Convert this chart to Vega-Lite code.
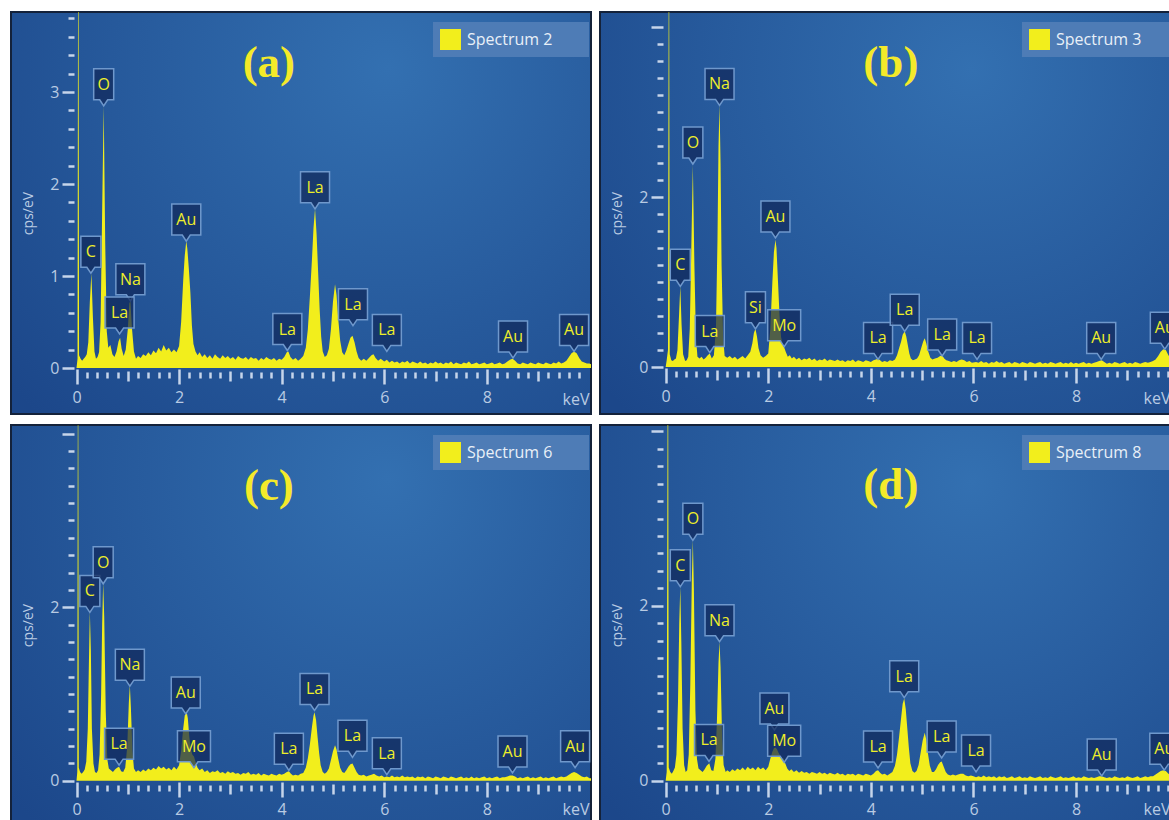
{
"$schema": "https://vega.github.io/schema/vega-lite/v6.json",
"background": "#ffffff",
"padding": {"left": 10, "top": 11, "right": 0, "bottom": 0},
"config": {
  "concat": {"spacing": 7},
  "axis": {"domain": false, "grid": false, "tickColor": "#c6d5ea", "tickWidth": 2.5, "labelColor": "#b9cbe3", "labelFont": "Open Sans", "labelFontSize": 16, "titleColor": "#b9cbe3", "titleFont": "Open Sans", "titleFontSize": 14, "titleFontWeight": "normal", "labelOverlap": false, "labelFlush": false},
  "legend": {"orient": "none", "legendY": 10, "legendX": 422, "title": null, "fillColor": "#4e7cb6", "padding": 7, "symbolType": "square", "symbolSize": 441, "symbolStrokeWidth": 0, "symbolOpacity": 1, "labelFont": "Open Sans", "labelFontSize": 16, "labelColor": "#e9f0f8", "labelOffset": 6}
},
"datasets": {
"a": [{"e":0,"v":0},{"e":0.02,"v":0.1},{"e":0.035,"v":6},{"e":0.05,"v":0.14},{"e":0.08,"v":0.1},{"e":0.11,"v":0.08},{"e":0.14,"v":0.1},{"e":0.17,"v":0.12},{"e":0.2,"v":0.15},{"e":0.23,"v":0.28},{"e":0.26,"v":0.72},{"e":0.29,"v":1.03},{"e":0.32,"v":0.55},{"e":0.35,"v":0.18},{"e":0.38,"v":0.1},{"e":0.41,"v":0.12},{"e":0.44,"v":0.17},{"e":0.47,"v":0.5},{"e":0.5,"v":1.7},{"e":0.53,"v":2.85},{"e":0.56,"v":1.35},{"e":0.59,"v":0.4},{"e":0.62,"v":0.22},{"e":0.66,"v":0.25},{"e":0.7,"v":0.15},{"e":0.74,"v":0.12},{"e":0.78,"v":0.18},{"e":0.82,"v":0.29},{"e":0.85,"v":0.33},{"e":0.88,"v":0.21},{"e":0.92,"v":0.13},{"e":0.96,"v":0.2},{"e":1,"v":0.42},{"e":1.03,"v":0.7},{"e":1.05,"v":0.73},{"e":1.08,"v":0.44},{"e":1.12,"v":0.18},{"e":1.16,"v":0.1},{"e":1.2,"v":0.13},{"e":1.25,"v":0.11},{"e":1.3,"v":0.15},{"e":1.35,"v":0.13},{"e":1.4,"v":0.17},{"e":1.45,"v":0.14},{"e":1.5,"v":0.19},{"e":1.55,"v":0.16},{"e":1.6,"v":0.22},{"e":1.65,"v":0.18},{"e":1.7,"v":0.25},{"e":1.75,"v":0.19},{"e":1.8,"v":0.22},{"e":1.85,"v":0.17},{"e":1.9,"v":0.2},{"e":1.95,"v":0.17},{"e":2,"v":0.24},{"e":2.04,"v":0.5},{"e":2.08,"v":0.95},{"e":2.11,"v":1.22},{"e":2.14,"v":1.38},{"e":2.16,"v":1.3},{"e":2.19,"v":1.08},{"e":2.22,"v":0.82},{"e":2.25,"v":0.46},{"e":2.28,"v":0.26},{"e":2.32,"v":0.18},{"e":2.36,"v":0.14},{"e":2.4,"v":0.17},{"e":2.45,"v":0.12},{"e":2.5,"v":0.15},{"e":2.55,"v":0.11},{"e":2.6,"v":0.14},{"e":2.65,"v":0.1},{"e":2.7,"v":0.15},{"e":2.75,"v":0.12},{"e":2.8,"v":0.1},{"e":2.85,"v":0.14},{"e":2.9,"v":0.11},{"e":2.95,"v":0.13},{"e":3,"v":0.1},{"e":3.05,"v":0.12},{"e":3.1,"v":0.09},{"e":3.15,"v":0.13},{"e":3.2,"v":0.11},{"e":3.25,"v":0.1},{"e":3.3,"v":0.12},{"e":3.35,"v":0.09},{"e":3.4,"v":0.12},{"e":3.45,"v":0.1},{"e":3.5,"v":0.11},{"e":3.55,"v":0.08},{"e":3.6,"v":0.11},{"e":3.65,"v":0.09},{"e":3.7,"v":0.12},{"e":3.75,"v":0.1},{"e":3.8,"v":0.09},{"e":3.85,"v":0.11},{"e":3.9,"v":0.08},{"e":3.95,"v":0.1},{"e":4,"v":0.09},{"e":4.05,"v":0.12},{"e":4.1,"v":0.17},{"e":4.13,"v":0.18},{"e":4.17,"v":0.12},{"e":4.22,"v":0.09},{"e":4.27,"v":0.11},{"e":4.32,"v":0.08},{"e":4.37,"v":0.1},{"e":4.42,"v":0.13},{"e":4.47,"v":0.22},{"e":4.51,"v":0.42},{"e":4.55,"v":0.78},{"e":4.59,"v":1.18},{"e":4.62,"v":1.52},{"e":4.65,"v":1.73},{"e":4.68,"v":1.46},{"e":4.71,"v":1.05},{"e":4.74,"v":0.64},{"e":4.77,"v":0.34},{"e":4.8,"v":0.18},{"e":4.84,"v":0.12},{"e":4.88,"v":0.14},{"e":4.92,"v":0.21},{"e":4.96,"v":0.42},{"e":5,"v":0.72},{"e":5.04,"v":0.91},{"e":5.07,"v":0.79},{"e":5.1,"v":0.55},{"e":5.14,"v":0.3},{"e":5.18,"v":0.17},{"e":5.22,"v":0.14},{"e":5.26,"v":0.19},{"e":5.3,"v":0.26},{"e":5.34,"v":0.33},{"e":5.38,"v":0.35},{"e":5.42,"v":0.28},{"e":5.46,"v":0.18},{"e":5.5,"v":0.11},{"e":5.55,"v":0.08},{"e":5.6,"v":0.1},{"e":5.65,"v":0.08},{"e":5.7,"v":0.11},{"e":5.75,"v":0.14},{"e":5.79,"v":0.15},{"e":5.83,"v":0.11},{"e":5.88,"v":0.08},{"e":5.93,"v":0.1},{"e":6,"v":0.07},{"e":6.05,"v":0.09},{"e":6.1,"v":0.06},{"e":6.15,"v":0.08},{"e":6.2,"v":0.06},{"e":6.25,"v":0.07},{"e":6.3,"v":0.05},{"e":6.35,"v":0.07},{"e":6.4,"v":0.06},{"e":6.45,"v":0.08},{"e":6.5,"v":0.05},{"e":6.55,"v":0.07},{"e":6.6,"v":0.06},{"e":6.65,"v":0.05},{"e":6.7,"v":0.07},{"e":6.75,"v":0.05},{"e":6.8,"v":0.06},{"e":6.85,"v":0.04},{"e":6.9,"v":0.06},{"e":6.95,"v":0.05},{"e":7,"v":0.07},{"e":7.05,"v":0.05},{"e":7.1,"v":0.06},{"e":7.15,"v":0.04},{"e":7.2,"v":0.06},{"e":7.25,"v":0.05},{"e":7.3,"v":0.07},{"e":7.35,"v":0.04},{"e":7.4,"v":0.06},{"e":7.45,"v":0.05},{"e":7.5,"v":0.04},{"e":7.55,"v":0.06},{"e":7.6,"v":0.05},{"e":7.65,"v":0.07},{"e":7.7,"v":0.04},{"e":7.75,"v":0.05},{"e":7.8,"v":0.06},{"e":7.85,"v":0.04},{"e":7.9,"v":0.05},{"e":7.95,"v":0.06},{"e":8,"v":0.04},{"e":8.05,"v":0.05},{"e":8.1,"v":0.06},{"e":8.15,"v":0.04},{"e":8.2,"v":0.05},{"e":8.25,"v":0.06},{"e":8.3,"v":0.04},{"e":8.35,"v":0.05},{"e":8.4,"v":0.07},{"e":8.45,"v":0.09},{"e":8.5,"v":0.1},{"e":8.55,"v":0.08},{"e":8.6,"v":0.05},{"e":8.65,"v":0.04},{"e":8.7,"v":0.06},{"e":8.75,"v":0.05},{"e":8.8,"v":0.04},{"e":8.85,"v":0.06},{"e":8.9,"v":0.05},{"e":8.95,"v":0.04},{"e":9,"v":0.06},{"e":9.05,"v":0.05},{"e":9.1,"v":0.04},{"e":9.15,"v":0.06},{"e":9.2,"v":0.05},{"e":9.25,"v":0.04},{"e":9.3,"v":0.06},{"e":9.35,"v":0.05},{"e":9.4,"v":0.07},{"e":9.45,"v":0.05},{"e":9.5,"v":0.06},{"e":9.55,"v":0.08},{"e":9.6,"v":0.12},{"e":9.65,"v":0.16},{"e":9.7,"v":0.18},{"e":9.75,"v":0.16},{"e":9.8,"v":0.11},{"e":9.85,"v":0.07},{"e":9.9,"v":0.06},{"e":9.95,"v":0.05},{"e":10,"v":0.05},{"e":10.03,"v":0.04}],
"b": [{"e":0,"v":0},{"e":0.02,"v":0.08},{"e":0.045,"v":0.2},{"e":0.064,"v":6},{"e":0.08,"v":0.15},{"e":0.11,"v":0.08},{"e":0.14,"v":0.07},{"e":0.17,"v":0.09},{"e":0.2,"v":0.1},{"e":0.23,"v":0.2},{"e":0.26,"v":0.6},{"e":0.285,"v":0.95},{"e":0.31,"v":0.5},{"e":0.34,"v":0.15},{"e":0.38,"v":0.07},{"e":0.41,"v":0.08},{"e":0.44,"v":0.12},{"e":0.47,"v":0.45},{"e":0.5,"v":1.4},{"e":0.53,"v":2.38},{"e":0.56,"v":1.2},{"e":0.59,"v":0.35},{"e":0.62,"v":0.12},{"e":0.66,"v":0.1},{"e":0.7,"v":0.12},{"e":0.74,"v":0.09},{"e":0.78,"v":0.11},{"e":0.82,"v":0.14},{"e":0.86,"v":0.16},{"e":0.9,"v":0.1},{"e":0.94,"v":0.14},{"e":0.98,"v":0.45},{"e":1.01,"v":1.5},{"e":1.03,"v":2.6},{"e":1.05,"v":3.09},{"e":1.07,"v":2.4},{"e":1.09,"v":1.2},{"e":1.12,"v":0.35},{"e":1.15,"v":0.13},{"e":1.2,"v":0.11},{"e":1.25,"v":0.13},{"e":1.3,"v":0.1},{"e":1.35,"v":0.12},{"e":1.4,"v":0.09},{"e":1.45,"v":0.11},{"e":1.5,"v":0.13},{"e":1.55,"v":0.1},{"e":1.6,"v":0.14},{"e":1.65,"v":0.18},{"e":1.69,"v":0.28},{"e":1.72,"v":0.4},{"e":1.75,"v":0.45},{"e":1.78,"v":0.36},{"e":1.81,"v":0.22},{"e":1.85,"v":0.14},{"e":1.9,"v":0.11},{"e":1.95,"v":0.13},{"e":2,"v":0.16},{"e":2.04,"v":0.45},{"e":2.08,"v":1},{"e":2.11,"v":1.35},{"e":2.14,"v":1.5},{"e":2.16,"v":1.4},{"e":2.19,"v":1},{"e":2.22,"v":0.6},{"e":2.25,"v":0.35},{"e":2.28,"v":0.27},{"e":2.31,"v":0.23},{"e":2.34,"v":0.18},{"e":2.38,"v":0.12},{"e":2.42,"v":0.14},{"e":2.46,"v":0.1},{"e":2.5,"v":0.12},{"e":2.55,"v":0.09},{"e":2.6,"v":0.11},{"e":2.65,"v":0.08},{"e":2.7,"v":0.1},{"e":2.75,"v":0.09},{"e":2.8,"v":0.11},{"e":2.85,"v":0.08},{"e":2.9,"v":0.1},{"e":2.95,"v":0.07},{"e":3,"v":0.09},{"e":3.05,"v":0.08},{"e":3.1,"v":0.1},{"e":3.15,"v":0.07},{"e":3.2,"v":0.09},{"e":3.25,"v":0.08},{"e":3.3,"v":0.07},{"e":3.35,"v":0.09},{"e":3.4,"v":0.07},{"e":3.45,"v":0.08},{"e":3.5,"v":0.06},{"e":3.55,"v":0.08},{"e":3.6,"v":0.07},{"e":3.65,"v":0.09},{"e":3.7,"v":0.06},{"e":3.75,"v":0.08},{"e":3.8,"v":0.07},{"e":3.85,"v":0.06},{"e":3.9,"v":0.08},{"e":3.95,"v":0.07},{"e":4,"v":0.06},{"e":4.05,"v":0.08},{"e":4.1,"v":0.09},{"e":4.14,"v":0.1},{"e":4.18,"v":0.08},{"e":4.22,"v":0.06},{"e":4.27,"v":0.07},{"e":4.32,"v":0.06},{"e":4.37,"v":0.08},{"e":4.42,"v":0.07},{"e":4.47,"v":0.09},{"e":4.51,"v":0.14},{"e":4.55,"v":0.22},{"e":4.59,"v":0.3},{"e":4.62,"v":0.38},{"e":4.66,"v":0.42},{"e":4.69,"v":0.36},{"e":4.72,"v":0.26},{"e":4.75,"v":0.16},{"e":4.78,"v":0.1},{"e":4.82,"v":0.08},{"e":4.86,"v":0.09},{"e":4.9,"v":0.1},{"e":4.94,"v":0.14},{"e":4.98,"v":0.22},{"e":5.02,"v":0.3},{"e":5.05,"v":0.34},{"e":5.08,"v":0.28},{"e":5.12,"v":0.18},{"e":5.16,"v":0.11},{"e":5.2,"v":0.09},{"e":5.25,"v":0.1},{"e":5.3,"v":0.11},{"e":5.35,"v":0.13},{"e":5.39,"v":0.14},{"e":5.43,"v":0.1},{"e":5.47,"v":0.08},{"e":5.52,"v":0.07},{"e":5.57,"v":0.06},{"e":5.62,"v":0.07},{"e":5.67,"v":0.06},{"e":5.72,"v":0.08},{"e":5.77,"v":0.09},{"e":5.82,"v":0.08},{"e":5.87,"v":0.06},{"e":5.92,"v":0.07},{"e":5.97,"v":0.05},{"e":6.05,"v":0.06},{"e":6.1,"v":0.05},{"e":6.15,"v":0.07},{"e":6.2,"v":0.05},{"e":6.25,"v":0.06},{"e":6.3,"v":0.04},{"e":6.35,"v":0.06},{"e":6.4,"v":0.05},{"e":6.45,"v":0.07},{"e":6.5,"v":0.05},{"e":6.55,"v":0.06},{"e":6.6,"v":0.04},{"e":6.65,"v":0.05},{"e":6.7,"v":0.06},{"e":6.75,"v":0.04},{"e":6.8,"v":0.06},{"e":6.85,"v":0.05},{"e":6.9,"v":0.04},{"e":6.95,"v":0.06},{"e":7,"v":0.05},{"e":7.05,"v":0.04},{"e":7.1,"v":0.06},{"e":7.15,"v":0.05},{"e":7.2,"v":0.04},{"e":7.25,"v":0.05},{"e":7.3,"v":0.06},{"e":7.35,"v":0.04},{"e":7.4,"v":0.05},{"e":7.45,"v":0.04},{"e":7.5,"v":0.06},{"e":7.55,"v":0.05},{"e":7.6,"v":0.04},{"e":7.65,"v":0.05},{"e":7.7,"v":0.06},{"e":7.75,"v":0.04},{"e":7.8,"v":0.05},{"e":7.85,"v":0.04},{"e":7.9,"v":0.06},{"e":7.95,"v":0.04},{"e":8,"v":0.05},{"e":8.05,"v":0.04},{"e":8.1,"v":0.05},{"e":8.15,"v":0.06},{"e":8.2,"v":0.04},{"e":8.25,"v":0.05},{"e":8.3,"v":0.04},{"e":8.35,"v":0.05},{"e":8.4,"v":0.06},{"e":8.45,"v":0.07},{"e":8.5,"v":0.08},{"e":8.55,"v":0.06},{"e":8.6,"v":0.04},{"e":8.65,"v":0.05},{"e":8.7,"v":0.04},{"e":8.75,"v":0.06},{"e":8.8,"v":0.05},{"e":8.85,"v":0.04},{"e":8.9,"v":0.05},{"e":8.95,"v":0.06},{"e":9,"v":0.04},{"e":9.05,"v":0.05},{"e":9.1,"v":0.04},{"e":9.15,"v":0.06},{"e":9.2,"v":0.05},{"e":9.25,"v":0.04},{"e":9.3,"v":0.05},{"e":9.35,"v":0.06},{"e":9.4,"v":0.05},{"e":9.45,"v":0.06},{"e":9.5,"v":0.07},{"e":9.55,"v":0.09},{"e":9.6,"v":0.13},{"e":9.65,"v":0.18},{"e":9.7,"v":0.21},{"e":9.75,"v":0.2},{"e":9.8,"v":0.14},{"e":9.85,"v":0.09},{"e":9.9,"v":0.06}],
"c": [{"e":0,"v":0},{"e":0.015,"v":0.1},{"e":0.03,"v":6},{"e":0.045,"v":0.15},{"e":0.07,"v":0.1},{"e":0.1,"v":0.08},{"e":0.13,"v":0.1},{"e":0.16,"v":0.13},{"e":0.19,"v":0.22},{"e":0.22,"v":0.6},{"e":0.24,"v":1.3},{"e":0.26,"v":1.95},{"e":0.28,"v":1.5},{"e":0.3,"v":0.6},{"e":0.33,"v":0.2},{"e":0.36,"v":0.1},{"e":0.39,"v":0.09},{"e":0.42,"v":0.12},{"e":0.45,"v":0.3},{"e":0.48,"v":1},{"e":0.5,"v":1.8},{"e":0.52,"v":2.28},{"e":0.54,"v":1.9},{"e":0.57,"v":0.8},{"e":0.6,"v":0.25},{"e":0.63,"v":0.14},{"e":0.67,"v":0.12},{"e":0.71,"v":0.1},{"e":0.75,"v":0.13},{"e":0.79,"v":0.15},{"e":0.83,"v":0.16},{"e":0.87,"v":0.11},{"e":0.91,"v":0.1},{"e":0.95,"v":0.15},{"e":0.99,"v":0.4},{"e":1.02,"v":0.9},{"e":1.04,"v":1.1},{"e":1.06,"v":0.85},{"e":1.09,"v":0.35},{"e":1.12,"v":0.14},{"e":1.16,"v":0.1},{"e":1.2,"v":0.12},{"e":1.25,"v":0.1},{"e":1.3,"v":0.13},{"e":1.35,"v":0.11},{"e":1.4,"v":0.14},{"e":1.45,"v":0.12},{"e":1.5,"v":0.15},{"e":1.55,"v":0.13},{"e":1.6,"v":0.17},{"e":1.65,"v":0.14},{"e":1.7,"v":0.16},{"e":1.75,"v":0.13},{"e":1.8,"v":0.15},{"e":1.85,"v":0.12},{"e":1.9,"v":0.16},{"e":1.95,"v":0.13},{"e":2,"v":0.18},{"e":2.04,"v":0.35},{"e":2.08,"v":0.6},{"e":2.11,"v":0.75},{"e":2.14,"v":0.82},{"e":2.17,"v":0.72},{"e":2.2,"v":0.5},{"e":2.23,"v":0.36},{"e":2.26,"v":0.3},{"e":2.29,"v":0.28},{"e":2.32,"v":0.22},{"e":2.36,"v":0.15},{"e":2.4,"v":0.12},{"e":2.45,"v":0.14},{"e":2.5,"v":0.1},{"e":2.55,"v":0.12},{"e":2.6,"v":0.09},{"e":2.65,"v":0.11},{"e":2.7,"v":0.1},{"e":2.75,"v":0.12},{"e":2.8,"v":0.09},{"e":2.85,"v":0.1},{"e":2.9,"v":0.08},{"e":2.95,"v":0.11},{"e":3,"v":0.09},{"e":3.05,"v":0.1},{"e":3.1,"v":0.08},{"e":3.15,"v":0.09},{"e":3.2,"v":0.07},{"e":3.25,"v":0.09},{"e":3.3,"v":0.08},{"e":3.35,"v":0.1},{"e":3.4,"v":0.07},{"e":3.45,"v":0.08},{"e":3.5,"v":0.07},{"e":3.55,"v":0.09},{"e":3.6,"v":0.06},{"e":3.65,"v":0.08},{"e":3.7,"v":0.07},{"e":3.75,"v":0.06},{"e":3.8,"v":0.08},{"e":3.85,"v":0.07},{"e":3.9,"v":0.06},{"e":3.95,"v":0.08},{"e":4,"v":0.07},{"e":4.05,"v":0.08},{"e":4.1,"v":0.1},{"e":4.14,"v":0.11},{"e":4.18,"v":0.08},{"e":4.22,"v":0.06},{"e":4.27,"v":0.07},{"e":4.32,"v":0.06},{"e":4.37,"v":0.08},{"e":4.42,"v":0.09},{"e":4.47,"v":0.15},{"e":4.51,"v":0.26},{"e":4.55,"v":0.42},{"e":4.59,"v":0.62},{"e":4.62,"v":0.75},{"e":4.64,"v":0.79},{"e":4.67,"v":0.7},{"e":4.7,"v":0.5},{"e":4.73,"v":0.32},{"e":4.76,"v":0.18},{"e":4.8,"v":0.1},{"e":4.84,"v":0.08},{"e":4.88,"v":0.1},{"e":4.92,"v":0.14},{"e":4.96,"v":0.24},{"e":5,"v":0.34},{"e":5.04,"v":0.41},{"e":5.07,"v":0.36},{"e":5.1,"v":0.26},{"e":5.14,"v":0.15},{"e":5.18,"v":0.1},{"e":5.22,"v":0.09},{"e":5.26,"v":0.12},{"e":5.3,"v":0.16},{"e":5.34,"v":0.19},{"e":5.38,"v":0.2},{"e":5.42,"v":0.15},{"e":5.46,"v":0.1},{"e":5.5,"v":0.07},{"e":5.55,"v":0.06},{"e":5.6,"v":0.07},{"e":5.65,"v":0.05},{"e":5.7,"v":0.06},{"e":5.75,"v":0.07},{"e":5.8,"v":0.08},{"e":5.85,"v":0.06},{"e":5.9,"v":0.05},{"e":5.95,"v":0.06},{"e":6,"v":0.04},{"e":6.05,"v":0.05},{"e":6.1,"v":0.04},{"e":6.15,"v":0.06},{"e":6.2,"v":0.04},{"e":6.25,"v":0.05},{"e":6.3,"v":0.04},{"e":6.35,"v":0.06},{"e":6.4,"v":0.04},{"e":6.45,"v":0.05},{"e":6.5,"v":0.04},{"e":6.55,"v":0.05},{"e":6.6,"v":0.03},{"e":6.65,"v":0.05},{"e":6.7,"v":0.04},{"e":6.75,"v":0.05},{"e":6.8,"v":0.03},{"e":6.85,"v":0.05},{"e":6.9,"v":0.04},{"e":6.95,"v":0.03},{"e":7,"v":0.05},{"e":7.05,"v":0.04},{"e":7.1,"v":0.03},{"e":7.15,"v":0.05},{"e":7.2,"v":0.04},{"e":7.25,"v":0.03},{"e":7.3,"v":0.05},{"e":7.35,"v":0.04},{"e":7.4,"v":0.03},{"e":7.45,"v":0.04},{"e":7.5,"v":0.05},{"e":7.55,"v":0.03},{"e":7.6,"v":0.04},{"e":7.65,"v":0.03},{"e":7.7,"v":0.05},{"e":7.75,"v":0.03},{"e":7.8,"v":0.04},{"e":7.85,"v":0.03},{"e":7.9,"v":0.04},{"e":7.95,"v":0.05},{"e":8,"v":0.03},{"e":8.05,"v":0.04},{"e":8.1,"v":0.03},{"e":8.15,"v":0.04},{"e":8.2,"v":0.05},{"e":8.25,"v":0.03},{"e":8.3,"v":0.04},{"e":8.35,"v":0.04},{"e":8.4,"v":0.05},{"e":8.45,"v":0.06},{"e":8.5,"v":0.06},{"e":8.55,"v":0.05},{"e":8.6,"v":0.03},{"e":8.65,"v":0.04},{"e":8.7,"v":0.03},{"e":8.75,"v":0.04},{"e":8.8,"v":0.05},{"e":8.85,"v":0.03},{"e":8.9,"v":0.04},{"e":8.95,"v":0.03},{"e":9,"v":0.04},{"e":9.05,"v":0.05},{"e":9.1,"v":0.03},{"e":9.15,"v":0.04},{"e":9.2,"v":0.03},{"e":9.25,"v":0.04},{"e":9.3,"v":0.05},{"e":9.35,"v":0.03},{"e":9.4,"v":0.04},{"e":9.45,"v":0.05},{"e":9.5,"v":0.04},{"e":9.55,"v":0.05},{"e":9.6,"v":0.07},{"e":9.65,"v":0.09},{"e":9.7,"v":0.1},{"e":9.75,"v":0.09},{"e":9.8,"v":0.07},{"e":9.85,"v":0.05},{"e":9.9,"v":0.04},{"e":9.95,"v":0.05},{"e":10,"v":0.03},{"e":10.03,"v":0.03}],
"d": [{"e":0,"v":0},{"e":0.02,"v":0.1},{"e":0.045,"v":6},{"e":0.06,"v":0.15},{"e":0.09,"v":0.1},{"e":0.12,"v":0.08},{"e":0.15,"v":0.11},{"e":0.18,"v":0.15},{"e":0.21,"v":0.3},{"e":0.24,"v":0.9},{"e":0.265,"v":1.8},{"e":0.285,"v":2.22},{"e":0.305,"v":1.6},{"e":0.33,"v":0.6},{"e":0.36,"v":0.18},{"e":0.39,"v":0.1},{"e":0.42,"v":0.12},{"e":0.45,"v":0.3},{"e":0.48,"v":1.1},{"e":0.51,"v":2.3},{"e":0.53,"v":2.75},{"e":0.55,"v":2.2},{"e":0.58,"v":0.8},{"e":0.61,"v":0.25},{"e":0.64,"v":0.14},{"e":0.68,"v":0.12},{"e":0.72,"v":0.1},{"e":0.76,"v":0.13},{"e":0.8,"v":0.17},{"e":0.85,"v":0.2},{"e":0.89,"v":0.12},{"e":0.93,"v":0.11},{"e":0.97,"v":0.25},{"e":1,"v":0.7},{"e":1.03,"v":1.35},{"e":1.05,"v":1.59},{"e":1.07,"v":1.3},{"e":1.1,"v":0.5},{"e":1.13,"v":0.18},{"e":1.17,"v":0.1},{"e":1.2,"v":0.12},{"e":1.25,"v":0.1},{"e":1.3,"v":0.13},{"e":1.35,"v":0.11},{"e":1.4,"v":0.14},{"e":1.45,"v":0.12},{"e":1.5,"v":0.15},{"e":1.55,"v":0.12},{"e":1.6,"v":0.16},{"e":1.65,"v":0.13},{"e":1.7,"v":0.15},{"e":1.75,"v":0.12},{"e":1.8,"v":0.16},{"e":1.85,"v":0.13},{"e":1.9,"v":0.15},{"e":1.95,"v":0.12},{"e":2,"v":0.16},{"e":2.04,"v":0.25},{"e":2.08,"v":0.33},{"e":2.11,"v":0.37},{"e":2.14,"v":0.38},{"e":2.17,"v":0.36},{"e":2.2,"v":0.32},{"e":2.24,"v":0.28},{"e":2.27,"v":0.26},{"e":2.3,"v":0.25},{"e":2.33,"v":0.2},{"e":2.37,"v":0.14},{"e":2.41,"v":0.11},{"e":2.45,"v":0.13},{"e":2.5,"v":0.1},{"e":2.55,"v":0.12},{"e":2.6,"v":0.09},{"e":2.65,"v":0.11},{"e":2.7,"v":0.09},{"e":2.75,"v":0.1},{"e":2.8,"v":0.08},{"e":2.85,"v":0.1},{"e":2.9,"v":0.09},{"e":2.95,"v":0.08},{"e":3,"v":0.1},{"e":3.05,"v":0.08},{"e":3.1,"v":0.09},{"e":3.15,"v":0.07},{"e":3.2,"v":0.09},{"e":3.25,"v":0.08},{"e":3.3,"v":0.07},{"e":3.35,"v":0.09},{"e":3.4,"v":0.07},{"e":3.45,"v":0.08},{"e":3.5,"v":0.06},{"e":3.55,"v":0.08},{"e":3.6,"v":0.07},{"e":3.65,"v":0.08},{"e":3.7,"v":0.06},{"e":3.75,"v":0.08},{"e":3.8,"v":0.07},{"e":3.85,"v":0.06},{"e":3.9,"v":0.08},{"e":3.95,"v":0.07},{"e":4,"v":0.06},{"e":4.05,"v":0.08},{"e":4.1,"v":0.11},{"e":4.14,"v":0.12},{"e":4.18,"v":0.09},{"e":4.22,"v":0.07},{"e":4.27,"v":0.08},{"e":4.32,"v":0.06},{"e":4.37,"v":0.08},{"e":4.42,"v":0.1},{"e":4.47,"v":0.17},{"e":4.51,"v":0.3},{"e":4.55,"v":0.5},{"e":4.59,"v":0.72},{"e":4.62,"v":0.88},{"e":4.65,"v":0.94},{"e":4.68,"v":0.82},{"e":4.71,"v":0.6},{"e":4.74,"v":0.38},{"e":4.77,"v":0.2},{"e":4.81,"v":0.11},{"e":4.85,"v":0.09},{"e":4.89,"v":0.11},{"e":4.93,"v":0.18},{"e":4.97,"v":0.32},{"e":5.01,"v":0.46},{"e":5.05,"v":0.55},{"e":5.08,"v":0.47},{"e":5.11,"v":0.32},{"e":5.15,"v":0.17},{"e":5.19,"v":0.1},{"e":5.23,"v":0.1},{"e":5.27,"v":0.13},{"e":5.31,"v":0.18},{"e":5.35,"v":0.21},{"e":5.38,"v":0.22},{"e":5.42,"v":0.16},{"e":5.46,"v":0.1},{"e":5.5,"v":0.07},{"e":5.55,"v":0.06},{"e":5.6,"v":0.07},{"e":5.65,"v":0.06},{"e":5.7,"v":0.07},{"e":5.75,"v":0.08},{"e":5.8,"v":0.08},{"e":5.85,"v":0.06},{"e":5.9,"v":0.05},{"e":5.95,"v":0.06},{"e":6,"v":0.05},{"e":6.05,"v":0.04},{"e":6.1,"v":0.05},{"e":6.15,"v":0.04},{"e":6.2,"v":0.06},{"e":6.25,"v":0.04},{"e":6.3,"v":0.05},{"e":6.35,"v":0.04},{"e":6.4,"v":0.05},{"e":6.45,"v":0.03},{"e":6.5,"v":0.05},{"e":6.55,"v":0.04},{"e":6.6,"v":0.05},{"e":6.65,"v":0.03},{"e":6.7,"v":0.04},{"e":6.75,"v":0.05},{"e":6.8,"v":0.03},{"e":6.85,"v":0.04},{"e":6.9,"v":0.05},{"e":6.95,"v":0.03},{"e":7,"v":0.04},{"e":7.05,"v":0.03},{"e":7.1,"v":0.05},{"e":7.15,"v":0.04},{"e":7.2,"v":0.03},{"e":7.25,"v":0.04},{"e":7.3,"v":0.05},{"e":7.35,"v":0.03},{"e":7.4,"v":0.04},{"e":7.45,"v":0.03},{"e":7.5,"v":0.05},{"e":7.55,"v":0.04},{"e":7.6,"v":0.03},{"e":7.65,"v":0.04},{"e":7.7,"v":0.05},{"e":7.75,"v":0.03},{"e":7.8,"v":0.04},{"e":7.85,"v":0.03},{"e":7.9,"v":0.04},{"e":7.95,"v":0.05},{"e":8,"v":0.03},{"e":8.05,"v":0.04},{"e":8.1,"v":0.03},{"e":8.15,"v":0.05},{"e":8.2,"v":0.04},{"e":8.25,"v":0.03},{"e":8.3,"v":0.04},{"e":8.35,"v":0.03},{"e":8.4,"v":0.04},{"e":8.45,"v":0.05},{"e":8.5,"v":0.05},{"e":8.55,"v":0.04},{"e":8.6,"v":0.03},{"e":8.65,"v":0.04},{"e":8.7,"v":0.03},{"e":8.75,"v":0.05},{"e":8.8,"v":0.04},{"e":8.85,"v":0.03},{"e":8.9,"v":0.04},{"e":8.95,"v":0.03},{"e":9,"v":0.05},{"e":9.05,"v":0.04},{"e":9.1,"v":0.03},{"e":9.15,"v":0.04},{"e":9.2,"v":0.05},{"e":9.25,"v":0.03},{"e":9.3,"v":0.04},{"e":9.35,"v":0.05},{"e":9.4,"v":0.04},{"e":9.45,"v":0.05},{"e":9.5,"v":0.05},{"e":9.55,"v":0.07},{"e":9.6,"v":0.09},{"e":9.65,"v":0.11},{"e":9.7,"v":0.12},{"e":9.75,"v":0.11},{"e":9.8,"v":0.08},{"e":9.85,"v":0.06},{"e":9.9,"v":0.05}],
"la": [{"e":0.28,"y":1.03,"t":"C","w":"1"},{"e":0.53,"y":2.85,"t":"O","w":"1"},{"e":1.05,"y":0.73,"t":"Na","w":"2"},{"e":0.84,"y":0.37,"t":"La","w":"2"},{"e":2.14,"y":1.38,"t":"Au","w":"2"},{"e":4.11,"y":0.19,"t":"La","w":"2"},{"e":4.65,"y":1.73,"t":"La","w":"2"},{"e":5.39,"y":0.46,"t":"La","w":"2"},{"e":6.05,"y":0.18,"t":"La","w":"2"},{"e":8.51,"y":0.11,"t":"Au","w":"2"},{"e":9.7,"y":0.18,"t":"Au","w":"2"}],
"lb": [{"e":0.285,"y":0.95,"t":"C","w":"1"},{"e":0.53,"y":2.39,"t":"O","w":"1"},{"e":1.05,"y":3.08,"t":"Na","w":"2"},{"e":0.86,"y":0.17,"t":"La","w":"2"},{"e":1.75,"y":0.45,"t":"Si","w":"1"},{"e":2.14,"y":1.52,"t":"Au","w":"2"},{"e":2.31,"y":0.24,"t":"Mo","w":"3"},{"e":4.14,"y":0.09,"t":"La","w":"2"},{"e":4.66,"y":0.42,"t":"La","w":"2"},{"e":5.39,"y":0.13,"t":"La","w":"2"},{"e":6.07,"y":0.09,"t":"La","w":"2"},{"e":8.49,"y":0.09,"t":"Au","w":"2"},{"e":9.73,"y":0.21,"t":"Au","w":"2"}],
"lc": [{"e":0.26,"y":1.94,"t":"C","w":"1"},{"e":0.52,"y":2.27,"t":"O","w":"1"},{"e":1.04,"y":1.09,"t":"Na","w":"2"},{"e":0.83,"y":0.18,"t":"La","w":"2"},{"e":2.13,"y":0.77,"t":"Au","w":"2"},{"e":2.29,"y":0.15,"t":"Mo","w":"3"},{"e":4.14,"y":0.12,"t":"La","w":"2"},{"e":4.64,"y":0.81,"t":"La","w":"2"},{"e":5.38,"y":0.27,"t":"La","w":"2"},{"e":6.05,"y":0.07,"t":"La","w":"2"},{"e":8.5,"y":0.09,"t":"Au","w":"2"},{"e":9.72,"y":0.15,"t":"Au","w":"2"}],
"ld": [{"e":0.285,"y":2.22,"t":"C","w":"1"},{"e":0.53,"y":2.75,"t":"O","w":"1"},{"e":1.05,"y":1.59,"t":"Na","w":"2"},{"e":0.845,"y":0.22,"t":"La","w":"2"},{"e":2.12,"y":0.58,"t":"Au","w":"2"},{"e":2.31,"y":0.21,"t":"Mo","w":"3"},{"e":4.14,"y":0.145,"t":"La","w":"2"},{"e":4.65,"y":0.95,"t":"La","w":"2"},{"e":5.38,"y":0.26,"t":"La","w":"2"},{"e":6.05,"y":0.1,"t":"La","w":"2"},{"e":8.5,"y":0.055,"t":"Au","w":"2"},{"e":9.72,"y":0.12,"t":"Au","w":"2"}]
},
"spacing": 7,
"resolve": {"scale": {"color": "independent"}},
"vconcat": [
 {"spacing": 7, "resolve": {"scale": {"color": "independent"}}, "hconcat": [
  {"width": 580, "height": 402,
   "view": {"fill": {"gradient": "radial", "x1": 0.65, "y1": 0.25, "r1": 0, "x2": 0.65, "y2": 0.25, "r2": 0.85, "stops": [{"offset": 0, "color": "#3370b1"}, {"offset": 1, "color": "#1c478a"}]}, "stroke": "#14223a", "strokeWidth": 2},
   "resolve": {"axis": {"x": "independent", "y": "independent"}},
   "layer": [
    {"data": {"name": "a"}, "mark": {"type": "area", "clip": true, "color": "#f2ee1c", "interpolate": "linear"},
     "encoding": {
      "x": {"field": "e", "type": "quantitative", "scale": {"domain": [-1.277, 10.03], "nice": false, "zero": false}, "axis": {"orient": "bottom", "values": [0,2,4,6,8], "tickSize": 15, "offset": -45, "labelPadding": 5, "title": "keV", "titleAnchor": "end", "titleAlign": "right", "titleBaseline": "top", "titleX": 578, "titleY": 22, "titleFontSize": 16}},
      "y": {"field": "v", "type": "quantitative", "scale": {"domain": [-0.5, 3.87], "nice": false, "zero": false}, "axis": {"orient": "left", "values": [0,1,2,3], "tickSize": 12, "offset": -63, "labelPadding": 3, "title": "cps/eV", "titlePadding": 14}},
      "color": {"datum": "Spectrum 2", "scale": {"range": ["#f2ee1c"]}, "legend": {"labelExpr": "datum.label + '       \u200b'"}}
     }},
    {"data": {"name": "la"}, "mark": {"type": "point", "filled": true, "size": 4, "opacity": 1, "fill": "#10285a", "fillOpacity": 0.72, "stroke": "#6f98cc", "strokeWidth": 1.5, "clip": true},
     "encoding": {
      "x": {"field": "e", "type": "quantitative", "scale": {"domain": [-1.277, 10.03], "nice": false, "zero": false}, "axis": {"orient": "bottom", "values": [1,3,5,7,9], "tickSize": 10, "offset": -43, "labels": false, "title": null}},
      "y": {"field": "y", "type": "quantitative", "scale": {"domain": [-0.5, 3.87], "nice": false, "zero": false}, "axis": {"orient": "left", "values": [0.2,0.4,0.6,0.8,1.2,1.4,1.6,1.8,2.2,2.4,2.6,2.8,3.2,3.4,3.6,3.8], "tickSize": 6, "offset": -63, "labels": false, "title": null}},
      "shape": {"field": "w", "type": "nominal", "scale": {"domain": ["1","2","3"], "range": ["M-10,-37H10V-6H4L0,0L-4,-6H-10Z", "M-14.5,-37H14.5V-6H4L0,0L-4,-6H-14.5Z", "M-16.5,-37H16.5V-6H4L0,0L-4,-6H-16.5Z"]}, "legend": null}
     }},
    {"data": {"name": "la"}, "mark": {"type": "text", "dy": -21, "font": "Open Sans", "fontSize": 16, "color": "#eeee2a", "align": "center", "baseline": "middle", "clip": true},
     "encoding": {
      "x": {"field": "e", "type": "quantitative", "scale": {"domain": [-1.277, 10.03], "nice": false, "zero": false}, "axis": {"orient": "bottom", "values": [0.2,0.4,0.6,0.8,1.2,1.4,1.6,1.8,2.2,2.4,2.6,2.8,3.2,3.4,3.6,3.8,4.2,4.4,4.6,4.8,5.2,5.4,5.6,5.8,6.2,6.4,6.6,6.8,7.2,7.4,7.6,7.8,8.2,8.4,8.6,8.8,9.2,9.4,9.6,9.8], "tickSize": 6, "offset": -42, "labels": false, "title": null}},
      "y": {"field": "y", "type": "quantitative", "scale": {"domain": [-0.5, 3.87], "nice": false, "zero": false}, "axis": null},
      "text": {"field": "t"}
     }},
    {"data": {"values": [{"e": 3.75, "v": 3.32, "t": "(a)"}]}, "mark": {"type": "text", "font": "Liberation Serif", "fontWeight": "bold", "fontSize": 45, "color": "#f4ea2a", "align": "center", "baseline": "middle"},
     "encoding": {
      "x": {"field": "e", "type": "quantitative", "scale": {"domain": [-1.277, 10.03], "nice": false, "zero": false}, "axis": null},
      "y": {"field": "v", "type": "quantitative", "scale": {"domain": [-0.5, 3.87], "nice": false, "zero": false}, "axis": null},
      "text": {"field": "t"}
     }}
   ]},
  {"width": 572, "height": 402,
   "view": {"fill": {"gradient": "radial", "x1": 0.65, "y1": 0.25, "r1": 0, "x2": 0.65, "y2": 0.25, "r2": 0.85, "stops": [{"offset": 0, "color": "#3370b1"}, {"offset": 1, "color": "#1c478a"}]}, "stroke": "#14223a", "strokeWidth": 2},
   "resolve": {"axis": {"x": "independent", "y": "independent"}},
   "layer": [
    {"data": {"name": "b"}, "mark": {"type": "area", "clip": true, "color": "#f2ee1c", "interpolate": "linear"},
     "encoding": {
      "x": {"field": "e", "type": "quantitative", "scale": {"domain": [-1.28, 9.87], "nice": false, "zero": false}, "axis": {"orient": "bottom", "values": [0,2,4,6,8], "tickSize": 15, "offset": -46, "labelPadding": 5, "title": "keV", "titleAnchor": "end", "titleAlign": "right", "titleBaseline": "top", "titleX": 570, "titleY": 22, "titleFontSize": 16}},
      "y": {"field": "v", "type": "quantitative", "scale": {"domain": [-0.553, 4.18], "nice": false, "zero": false}, "axis": {"orient": "left", "values": [0,2,4], "labelExpr": "datum.value == 4 ? '' : datum.label", "tickSize": 12, "offset": -63, "labelPadding": 3, "title": "cps/eV", "titlePadding": 14}},
      "color": {"datum": "Spectrum 3", "scale": {"range": ["#f2ee1c"]}, "legend": {"labelExpr": "datum.label + '     \u200b'"}}
     }},
    {"data": {"name": "lb"}, "mark": {"type": "point", "filled": true, "size": 4, "opacity": 1, "fill": "#10285a", "fillOpacity": 0.72, "stroke": "#6f98cc", "strokeWidth": 1.5, "clip": true},
     "encoding": {
      "x": {"field": "e", "type": "quantitative", "scale": {"domain": [-1.28, 9.87], "nice": false, "zero": false}, "axis": {"orient": "bottom", "values": [1,3,5,7,9], "tickSize": 10, "offset": -44, "labels": false, "title": null}},
      "y": {"field": "y", "type": "quantitative", "scale": {"domain": [-0.553, 4.18], "nice": false, "zero": false}, "axis": {"orient": "left", "values": [0.2,0.4,0.6,0.8,1,1.2,1.4,1.6,1.8,2.2,2.4,2.6,2.8,3,3.2,3.4,3.6,3.8], "tickSize": 6, "offset": -63, "labels": false, "title": null}},
      "shape": {"field": "w", "type": "nominal", "scale": {"domain": ["1","2","3"], "range": ["M-10,-37H10V-6H4L0,0L-4,-6H-10Z", "M-14.5,-37H14.5V-6H4L0,0L-4,-6H-14.5Z", "M-16.5,-37H16.5V-6H4L0,0L-4,-6H-16.5Z"]}, "legend": null}
     }},
    {"data": {"name": "lb"}, "mark": {"type": "text", "dy": -21, "font": "Open Sans", "fontSize": 16, "color": "#eeee2a", "align": "center", "baseline": "middle", "clip": true},
     "encoding": {
      "x": {"field": "e", "type": "quantitative", "scale": {"domain": [-1.28, 9.87], "nice": false, "zero": false}, "axis": {"orient": "bottom", "values": [0.2,0.4,0.6,0.8,1.2,1.4,1.6,1.8,2.2,2.4,2.6,2.8,3.2,3.4,3.6,3.8,4.2,4.4,4.6,4.8,5.2,5.4,5.6,5.8,6.2,6.4,6.6,6.8,7.2,7.4,7.6,7.8,8.2,8.4,8.6,8.8,9.2,9.4,9.6,9.8], "tickSize": 6, "offset": -43, "labels": false, "title": null}},
      "y": {"field": "y", "type": "quantitative", "scale": {"domain": [-0.553, 4.18], "nice": false, "zero": false}, "axis": null},
      "text": {"field": "t"}
     }},
    {"data": {"values": [{"e": 4.39, "v": 3.58, "t": "(b)"}]}, "mark": {"type": "text", "font": "Liberation Serif", "fontWeight": "bold", "fontSize": 45, "color": "#f4ea2a", "align": "center", "baseline": "middle"},
     "encoding": {
      "x": {"field": "e", "type": "quantitative", "scale": {"domain": [-1.28, 9.87], "nice": false, "zero": false}, "axis": null},
      "y": {"field": "v", "type": "quantitative", "scale": {"domain": [-0.553, 4.18], "nice": false, "zero": false}, "axis": null},
      "text": {"field": "t"}
     }}
   ]}
 ]},
 {"spacing": 7, "resolve": {"scale": {"color": "independent"}}, "hconcat": [
  {"width": 580, "height": 400,
   "view": {"fill": {"gradient": "radial", "x1": 0.65, "y1": 0.25, "r1": 0, "x2": 0.65, "y2": 0.25, "r2": 0.85, "stops": [{"offset": 0, "color": "#3370b1"}, {"offset": 1, "color": "#1c478a"}]}, "stroke": "#14223a", "strokeWidth": 2},
   "resolve": {"axis": {"x": "independent", "y": "independent"}},
   "layer": [
    {"data": {"name": "c"}, "mark": {"type": "area", "clip": true, "color": "#f2ee1c", "interpolate": "linear"},
     "encoding": {
      "x": {"field": "e", "type": "quantitative", "scale": {"domain": [-1.277, 10.03], "nice": false, "zero": false}, "axis": {"orient": "bottom", "values": [0,2,4,6,8], "tickSize": 15, "offset": -43, "labelPadding": 4, "title": "keV", "titleAnchor": "end", "titleAlign": "right", "titleBaseline": "top", "titleX": 578, "titleY": 19, "titleFontSize": 16}},
      "y": {"field": "v", "type": "quantitative", "scale": {"domain": [-0.51, 4.1], "nice": false, "zero": false}, "axis": {"orient": "left", "values": [0,2,4], "labelExpr": "datum.value == 4 ? '' : datum.label", "tickSize": 12, "offset": -63, "labelPadding": 3, "title": "cps/eV", "titlePadding": 14}},
      "color": {"datum": "Spectrum 6", "scale": {"range": ["#f2ee1c"]}, "legend": {"labelExpr": "datum.label + '       \u200b'"}}
     }},
    {"data": {"name": "lc"}, "mark": {"type": "point", "filled": true, "size": 4, "opacity": 1, "fill": "#10285a", "fillOpacity": 0.72, "stroke": "#6f98cc", "strokeWidth": 1.5, "clip": true},
     "encoding": {
      "x": {"field": "e", "type": "quantitative", "scale": {"domain": [-1.277, 10.03], "nice": false, "zero": false}, "axis": {"orient": "bottom", "values": [1,3,5,7,9], "tickSize": 10, "offset": -41, "labels": false, "title": null}},
      "y": {"field": "y", "type": "quantitative", "scale": {"domain": [-0.51, 4.1], "nice": false, "zero": false}, "axis": {"orient": "left", "values": [0.2,0.4,0.6,0.8,1,1.2,1.4,1.6,1.8,2.2,2.4,2.6,2.8,3,3.2,3.4,3.6,3.8], "tickSize": 6, "offset": -63, "labels": false, "title": null}},
      "shape": {"field": "w", "type": "nominal", "scale": {"domain": ["1","2","3"], "range": ["M-10,-37H10V-6H4L0,0L-4,-6H-10Z", "M-14.5,-37H14.5V-6H4L0,0L-4,-6H-14.5Z", "M-16.5,-37H16.5V-6H4L0,0L-4,-6H-16.5Z"]}, "legend": null}
     }},
    {"data": {"name": "lc"}, "mark": {"type": "text", "dy": -21, "font": "Open Sans", "fontSize": 16, "color": "#eeee2a", "align": "center", "baseline": "middle", "clip": true},
     "encoding": {
      "x": {"field": "e", "type": "quantitative", "scale": {"domain": [-1.277, 10.03], "nice": false, "zero": false}, "axis": {"orient": "bottom", "values": [0.2,0.4,0.6,0.8,1.2,1.4,1.6,1.8,2.2,2.4,2.6,2.8,3.2,3.4,3.6,3.8,4.2,4.4,4.6,4.8,5.2,5.4,5.6,5.8,6.2,6.4,6.6,6.8,7.2,7.4,7.6,7.8,8.2,8.4,8.6,8.8,9.2,9.4,9.6,9.8], "tickSize": 6, "offset": -40, "labels": false, "title": null}},
      "y": {"field": "y", "type": "quantitative", "scale": {"domain": [-0.51, 4.1], "nice": false, "zero": false}, "axis": null},
      "text": {"field": "t"}
     }},
    {"data": {"values": [{"e": 3.75, "v": 3.4, "t": "(c)"}]}, "mark": {"type": "text", "font": "Liberation Serif", "fontWeight": "bold", "fontSize": 45, "color": "#f4ea2a", "align": "center", "baseline": "middle"},
     "encoding": {
      "x": {"field": "e", "type": "quantitative", "scale": {"domain": [-1.277, 10.03], "nice": false, "zero": false}, "axis": null},
      "y": {"field": "v", "type": "quantitative", "scale": {"domain": [-0.51, 4.1], "nice": false, "zero": false}, "axis": null},
      "text": {"field": "t"}
     }}
   ]},
  {"width": 572, "height": 400,
   "view": {"fill": {"gradient": "radial", "x1": 0.65, "y1": 0.25, "r1": 0, "x2": 0.65, "y2": 0.25, "r2": 0.85, "stops": [{"offset": 0, "color": "#3370b1"}, {"offset": 1, "color": "#1c478a"}]}, "stroke": "#14223a", "strokeWidth": 2},
   "resolve": {"axis": {"x": "independent", "y": "independent"}},
   "layer": [
    {"data": {"name": "d"}, "mark": {"type": "area", "clip": true, "color": "#f2ee1c", "interpolate": "linear"},
     "encoding": {
      "x": {"field": "e", "type": "quantitative", "scale": {"domain": [-1.28, 9.87], "nice": false, "zero": false}, "axis": {"orient": "bottom", "values": [0,2,4,6,8], "tickSize": 15, "offset": -43, "labelPadding": 4, "title": "keV", "titleAnchor": "end", "titleAlign": "right", "titleBaseline": "top", "titleX": 570, "titleY": 19, "titleFontSize": 16}},
      "y": {"field": "v", "type": "quantitative", "scale": {"domain": [-0.507, 4.07], "nice": false, "zero": false}, "axis": {"orient": "left", "values": [0,2,4], "labelExpr": "datum.value == 4 ? '' : datum.label", "tickSize": 12, "offset": -63, "labelPadding": 3, "title": "cps/eV", "titlePadding": 14}},
      "color": {"datum": "Spectrum 8", "scale": {"range": ["#f2ee1c"]}, "legend": {"labelExpr": "datum.label + '     \u200b'"}}
     }},
    {"data": {"name": "ld"}, "mark": {"type": "point", "filled": true, "size": 4, "opacity": 1, "fill": "#10285a", "fillOpacity": 0.72, "stroke": "#6f98cc", "strokeWidth": 1.5, "clip": true},
     "encoding": {
      "x": {"field": "e", "type": "quantitative", "scale": {"domain": [-1.28, 9.87], "nice": false, "zero": false}, "axis": {"orient": "bottom", "values": [1,3,5,7,9], "tickSize": 10, "offset": -41, "labels": false, "title": null}},
      "y": {"field": "y", "type": "quantitative", "scale": {"domain": [-0.507, 4.07], "nice": false, "zero": false}, "axis": {"orient": "left", "values": [0.2,0.4,0.6,0.8,1,1.2,1.4,1.6,1.8,2.2,2.4,2.6,2.8,3,3.2,3.4,3.6,3.8], "tickSize": 6, "offset": -63, "labels": false, "title": null}},
      "shape": {"field": "w", "type": "nominal", "scale": {"domain": ["1","2","3"], "range": ["M-10,-37H10V-6H4L0,0L-4,-6H-10Z", "M-14.5,-37H14.5V-6H4L0,0L-4,-6H-14.5Z", "M-16.5,-37H16.5V-6H4L0,0L-4,-6H-16.5Z"]}, "legend": null}
     }},
    {"data": {"name": "ld"}, "mark": {"type": "text", "dy": -21, "font": "Open Sans", "fontSize": 16, "color": "#eeee2a", "align": "center", "baseline": "middle", "clip": true},
     "encoding": {
      "x": {"field": "e", "type": "quantitative", "scale": {"domain": [-1.28, 9.87], "nice": false, "zero": false}, "axis": {"orient": "bottom", "values": [0.2,0.4,0.6,0.8,1.2,1.4,1.6,1.8,2.2,2.4,2.6,2.8,3.2,3.4,3.6,3.8,4.2,4.4,4.6,4.8,5.2,5.4,5.6,5.8,6.2,6.4,6.6,6.8,7.2,7.4,7.6,7.8,8.2,8.4,8.6,8.8,9.2,9.4,9.6,9.8], "tickSize": 6, "offset": -40, "labels": false, "title": null}},
      "y": {"field": "y", "type": "quantitative", "scale": {"domain": [-0.507, 4.07], "nice": false, "zero": false}, "axis": null},
      "text": {"field": "t"}
     }},
    {"data": {"values": [{"e": 4.39, "v": 3.38, "t": "(d)"}]}, "mark": {"type": "text", "font": "Liberation Serif", "fontWeight": "bold", "fontSize": 45, "color": "#f4ea2a", "align": "center", "baseline": "middle"},
     "encoding": {
      "x": {"field": "e", "type": "quantitative", "scale": {"domain": [-1.28, 9.87], "nice": false, "zero": false}, "axis": null},
      "y": {"field": "v", "type": "quantitative", "scale": {"domain": [-0.507, 4.07], "nice": false, "zero": false}, "axis": null},
      "text": {"field": "t"}
     }}
   ]}
 ]}
]
}
